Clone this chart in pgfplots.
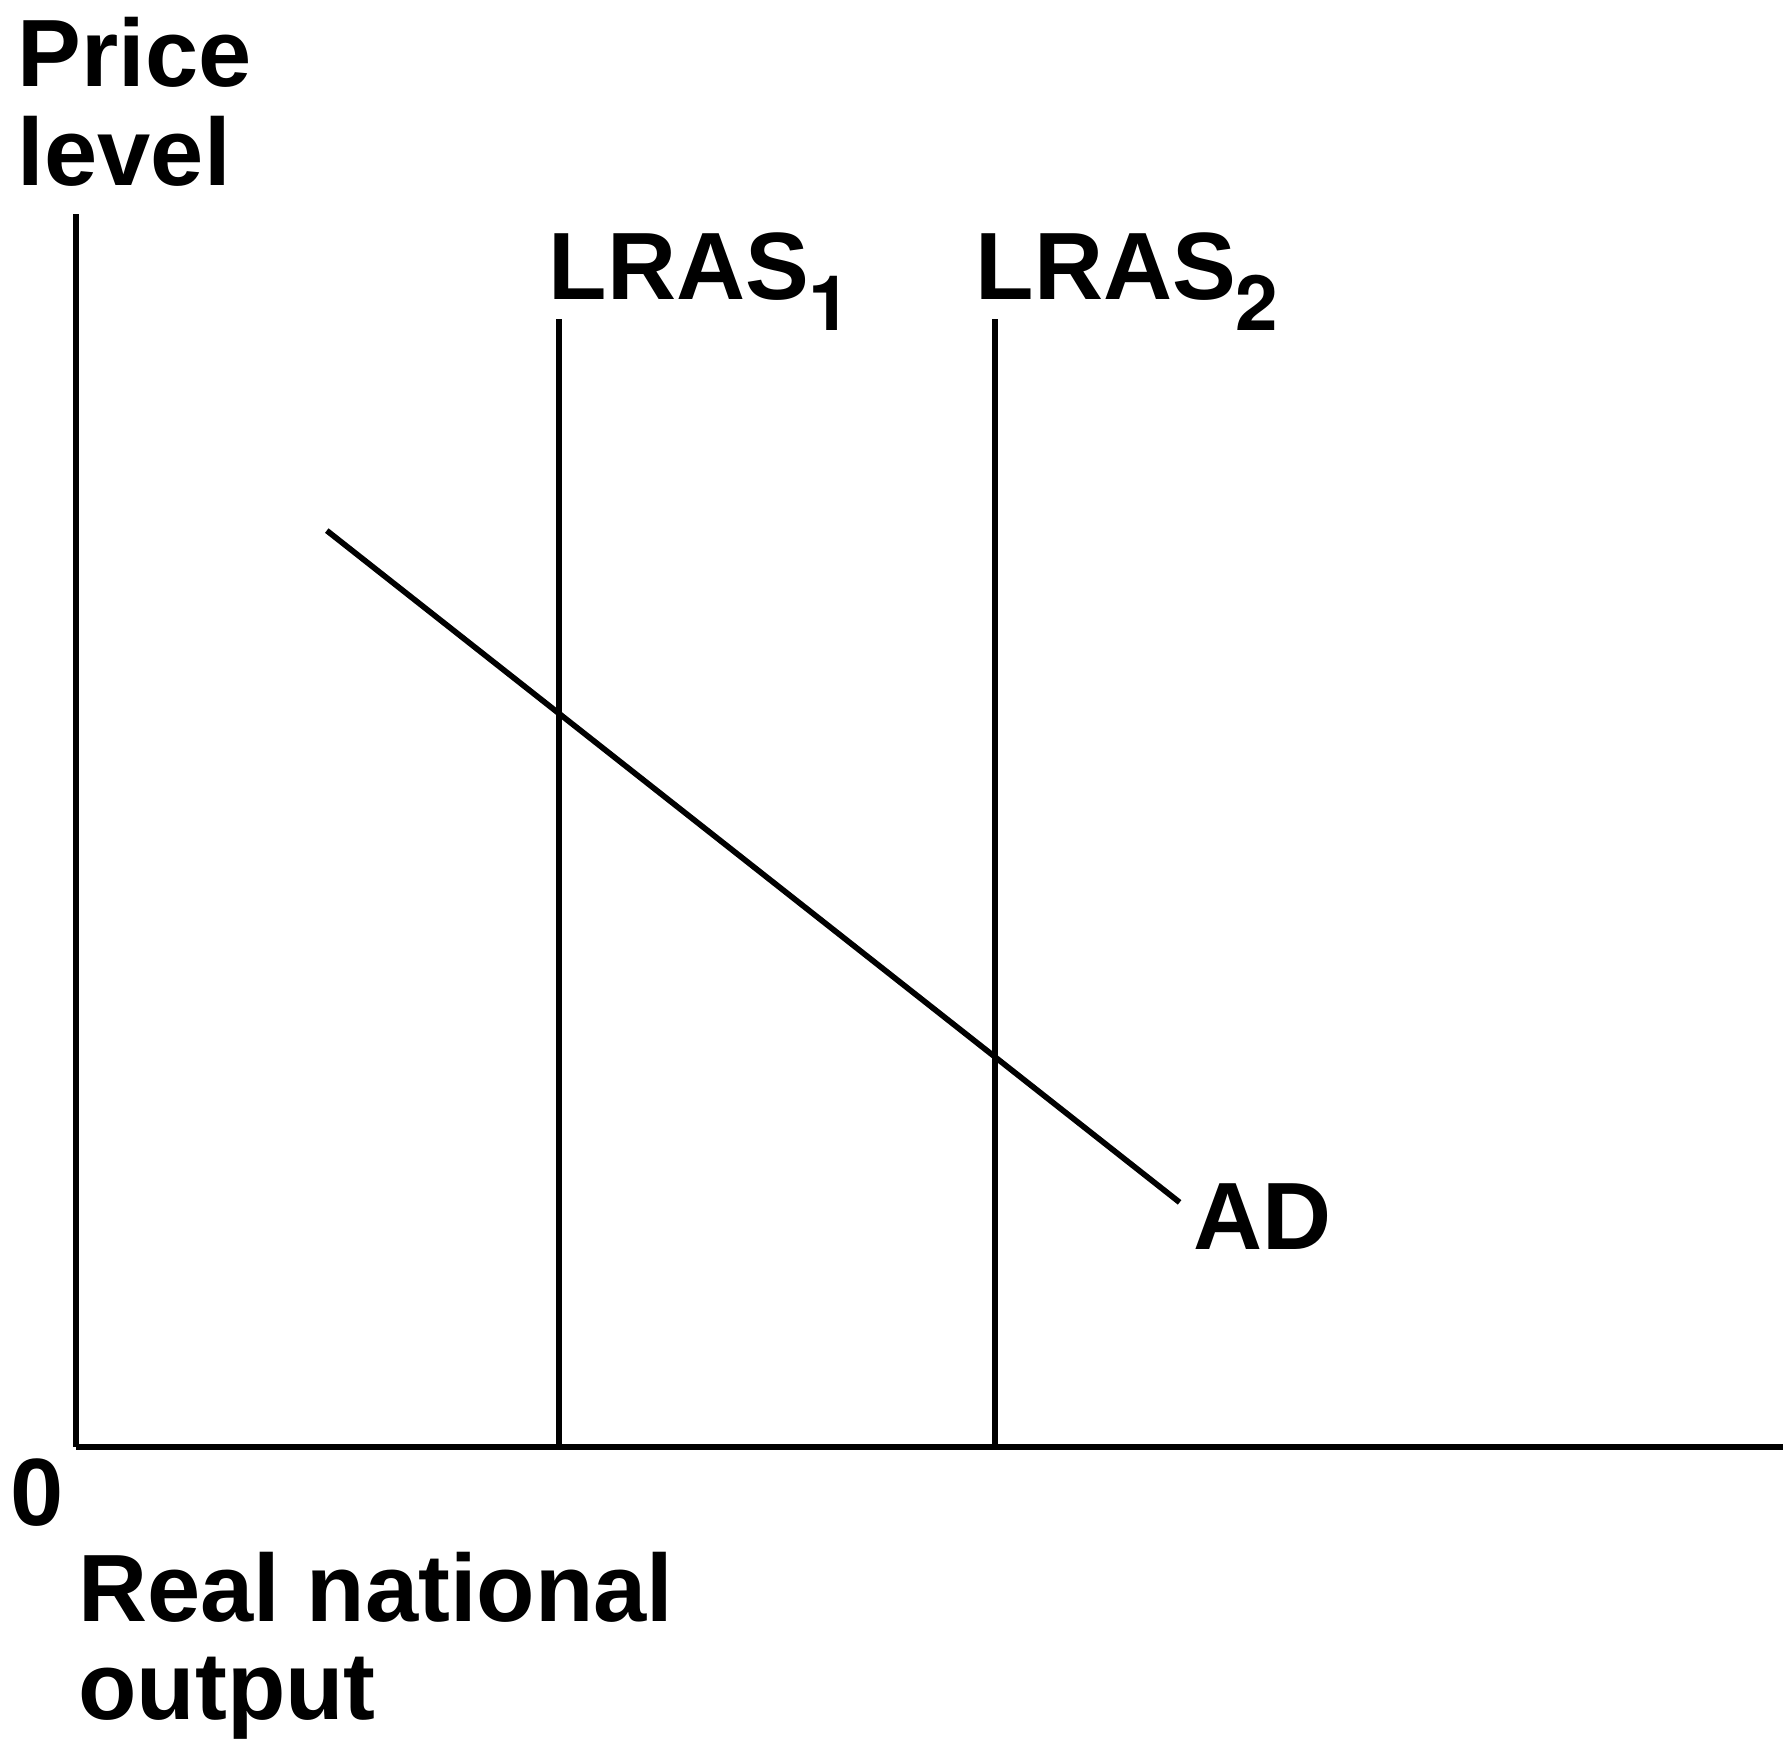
\documentclass[border=0pt]{standalone}
\usepackage{fontspec}
\setmainfont{Liberation Sans}
\newfontfamily\subfont{TeX Gyre Heros}
\usepackage{pgfplots}
\pgfplotsset{compat=1.18}
\begin{document}
\begin{tikzpicture}[font=\bfseries]
\begin{axis}[
  scale only axis,
  width=374.75pt, height=270.75pt,
  xmin=0, xmax=1499, ymin=0, ymax=1083,
  axis x line=bottom, axis y line=left,
  axis line style={-, line width=1.3pt},
  ticks=none,
  clip=false,
]
% lines
\addplot[black, line width=1.25pt] coordinates {(424,0) (424,991)};
\addplot[black, line width=1.25pt] coordinates {(807,0) (807,991)};
\addplot[black, line width=1.25pt] coordinates {(220,805) (969,215)};
% labels
\node[anchor=base west, inner sep=0pt, font=\fontsize{21}{25}\bfseries] at (axis cs:414,1008) {LRAS\raisebox{-6.75pt}{\subfont\fontsize{16.8}{18}\selectfont\bfseries 1}};
\node[anchor=base west, inner sep=0pt, font=\fontsize{21}{25}\bfseries] at (axis cs:789,1008) {LRAS\raisebox{-6.75pt}{\subfont\fontsize{16.8}{18}\selectfont\bfseries 2}};
\node[anchor=base west, inner sep=0pt, font=\fontsize{21}{25}\bfseries] at (axis cs:980,174) {AD};
\node[anchor=base west, inner sep=0pt, font=\fontsize{21}{25}\bfseries] at (axis cs:-59,-69) {0};
\node[anchor=base west, inner sep=0pt, font=\fontsize{21}{25}\bfseries] at (axis cs:-52,1195) {Price};
\node[anchor=base west, inner sep=0pt, font=\fontsize{21}{25}\bfseries] at (axis cs:-52,1108) {level};
\node[anchor=base west, inner sep=0pt, font=\fontsize{21}{25}\bfseries] at (axis cs:1,-153) {Real national};
\node[anchor=base west, inner sep=0pt, font=\fontsize{21}{25}\bfseries] at (axis cs:1,-239) {output};
\path[use as bounding box] (axis cs:-67,-260) rectangle (axis cs:1501,1271);
\end{axis}
\end{tikzpicture}
\end{document}
